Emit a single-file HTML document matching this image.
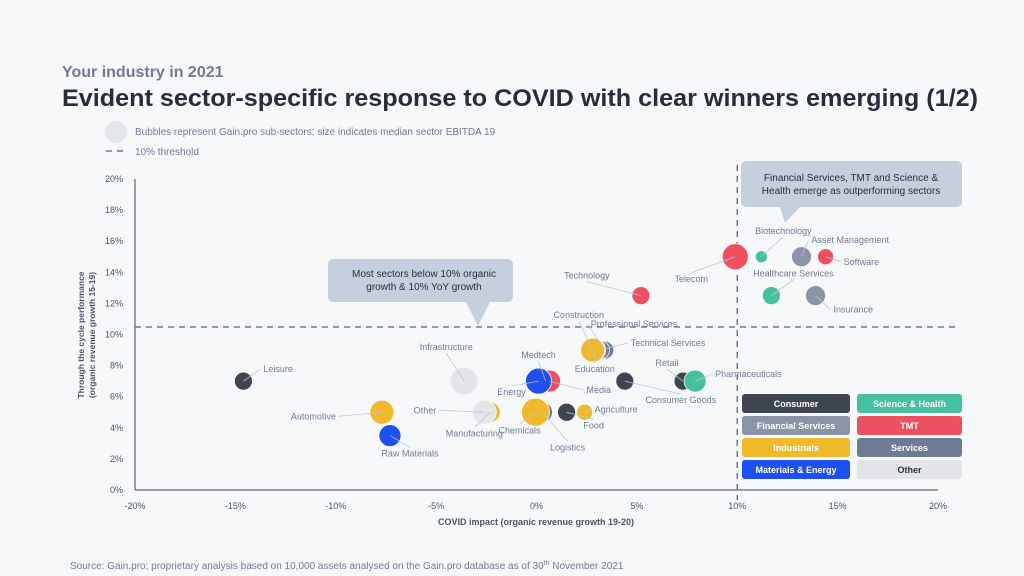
<!DOCTYPE html>
<html><head><meta charset="utf-8"><style>
html,body{margin:0;padding:0;background:#f7f8fa;}
svg{display:block;font-family:"Liberation Sans",sans-serif;}
</style></head><body>
<svg id="chart" width="1024" height="576" viewBox="0 0 1024 576">
<rect width="1024" height="576" fill="#f7f8fa"/>
<text x="62" y="77" font-size="16" font-weight="bold" fill="#6e7b96">Your industry in 2021</text>
<text x="62" y="106" font-size="24" font-weight="bold" fill="#272e3b" textLength="916" lengthAdjust="spacingAndGlyphs">Evident sector-specific response to COVID with clear winners emerging (1/2)</text>
<circle cx="116" cy="132" r="11" fill="#e3e6ec"/>
<text x="135" y="135" font-size="10" fill="#6e7b96">Bubbles represent Gain.pro sub-sectors; size indicates median sector EBITDA 19</text>
<line x1="106" y1="151" x2="126" y2="151" stroke="#6e7b96" stroke-width="1.5" stroke-dasharray="6,5"/>
<text x="135" y="155" font-size="10" fill="#6e7b96">10% threshold</text>
<g id="axes"></g>
<g id="bubbles"></g>
<g id="callouts">
<path d="M328,265 Q328,259 334,259 L507,259 Q513,259 513,265 L513,296 Q513,302 507,302 L490,302 L478,326 L466,302 L334,302 Q328,302 328,296 Z" fill="#c5cfdd"/>
<text x="424" y="277" font-size="10" fill="#272e3b" text-anchor="middle">Most sectors below 10% organic</text>
<text x="424" y="290" font-size="10" fill="#272e3b" text-anchor="middle">growth &amp; 10% YoY growth</text>
<path d="M741,167 Q741,161 747,161 L956,161 Q962,161 962,167 L962,201 Q962,207 956,207 L800,207 L785,223 L780,207 L747,207 Q741,207 741,201 Z" fill="#c5cfdd"/>
<text x="851" y="181" font-size="10" fill="#272e3b" text-anchor="middle">Financial Services, TMT and Science &amp;</text>
<text x="851" y="194" font-size="10" fill="#272e3b" text-anchor="middle">Health emerge as outperforming sectors</text>
</g>
<g id="legend"></g>
<text x="536" y="525" font-size="9" font-weight="bold" fill="#4a5468" text-anchor="middle">COVID impact (organic revenue growth 19-20)</text>
<text transform="translate(84,335) rotate(-90)" font-size="8.5" font-weight="bold" fill="#4a5468" text-anchor="middle">Through the cycle performance</text>
<text transform="translate(95,335) rotate(-90)" font-size="8.5" font-weight="bold" fill="#4a5468" text-anchor="middle">(organic revenue growth 15-19)</text>
<text x="70" y="569" font-size="10" fill="#6e7b96">Source: Gain.pro; proprietary analysis based on 10,000 assets analysed on the Gain.pro database as of 30<tspan font-size="7" dy="-4">th</tspan><tspan dy="4"> November 2021</tspan></text>
</svg>
<script>
const xTicks=[-20,-15,-10,-5,0,5,10,15,20];
const yTicks=[0,2,4,6,8,10,12,14,16,18,20];
const names=["Leisure","Infrastructure","Automotive","Raw Materials","Manufacturing","Other","Medtech","Media","Energy","Logistics","Chemicals","Food","Agriculture","Professional Services","Technical Services","Education","Construction","Consumer Goods","Retail","Pharmaceuticals","Technology","Telecom","Biotechnology","Asset Management","Software","Healthcare Services","Insurance"];
const covidX=[-14.6,-3.6,-7.7,-7.3,-2.3,-2.6,0.45,0.65,0.1,0.3,-0.05,1.5,2.4,3.4,3.2,2.9,2.8,4.4,7.3,7.9,5.2,9.9,11.2,13.2,14.4,11.7,13.9];
const cycleY=[7.0,7.0,5.0,3.5,5.0,5.0,7.0,7.0,7.0,5.0,5.0,5.0,5.0,9.0,9.0,9.0,9.0,7.0,7.0,7.0,12.5,15.0,15.0,15.0,15.0,12.5,12.5];
const ebitda=[9,14,12,11,10,12,11,11,13,10,14,9,8,9,9,11,12,9,9,11,9,13,6,10,8,9,10];
const sectors=["Consumer","Other","Industrials","Materials & Energy","Industrials","Other","Science & Health","TMT","Materials & Energy","Services","Industrials","Consumer","Industrials","Services","Services","Industrials","Industrials","Consumer","Consumer","Science & Health","TMT","TMT","Science & Health","Financial Services","TMT","Science & Health","Financial Services"];
const colors={"Consumer":"#3d4550","Science & Health":"#45c1a0","Financial Services":"#8a94a6","TMT":"#ee5060","Industrials":"#f0b92a","Services":"#6e7b96","Materials & Energy":"#1e4ff0","Other":"#e3e5e8"};
// label anchor offsets (layout only)
const lab={"Leisure":[20,-9,"start"],"Infrastructure":[-18,-31,"middle"],"Automotive":[-46,7,"end"],"Raw Materials":[20,21,"middle"],"Manufacturing":[-16,24,"middle"],"Other":[-48,1,"end"],"Medtech":[-7,-23,"middle"],"Media":[37,12,"start"],"Energy":[-27,14,"middle"],"Logistics":[25,38,"middle"],"Chemicals":[-16,21,"middle"],"Food":[27,16,"middle"],"Agriculture":[10,0,"start"],"Professional Services":[-14,-23,"start"],"Technical Services":[30,-4,"start"],"Education":[0,22,"middle"],"Construction":[-14,-32,"middle"],"Consumer Goods":[56,22,"middle"],"Retail":[-16,-15,"middle"],"Pharmaceuticals":[20,-4,"start"],"Technology":[-54,-17,"middle"],"Telecom":[-44,25,"middle"],"Biotechnology":[22,-23,"middle"],"Asset Management":[10,-14,"start"],"Software":[18,8,"start"],"Healthcare Services":[22,-19,"middle"],"Insurance":[18,17,"start"]};
const NS="http://www.w3.org/2000/svg";
const X0=135,X1=938,Y0=490,Y1=179;
function sx(v){return X0+(v-(-20))/40*(X1-X0);}
function sy(v){return Y0-(v/20)*(Y0-Y1);}
function mk(tag,attrs,parent){const e=document.createElementNS(NS,tag);for(const k in attrs)e.setAttribute(k,attrs[k]);parent.appendChild(e);return e;}
const axes=document.getElementById('axes');
let l=mk('line',{x1:X0,y1:Y1,x2:X0,y2:Y0,stroke:'#3d4550','stroke-width':1},axes);


l=mk('line',{x1:X0,y1:Y0,x2:X1,y2:Y0,stroke:'#3d4550','stroke-width':1},axes);


xTicks.forEach(t=>{const e=mk('text',{x:sx(t),y:Y0+19,'font-size':9,fill:'#4a5468','text-anchor':'middle'},axes);e.textContent=t+'%';

});
yTicks.forEach(t=>{const e=mk('text',{x:X0-12,y:sy(t)+3,'font-size':9,fill:'#4a5468','text-anchor':'end'},axes);e.textContent=t+'%';

});
l=mk('line',{x1:X0,y1:327,x2:960,y2:327,stroke:'#6e7b96','stroke-width':1.5,'stroke-dasharray':'6,5'},axes);


l=mk('line',{x1:sx(10),y1:165,x2:sx(10),y2:500,stroke:'#6e7b96','stroke-width':1.5,'stroke-dasharray':'6,5'},axes);


const bg=document.getElementById('bubbles');
names.forEach((n,i)=>{
 const cx=sx(covidX[i]),cy=sy(cycleY[i]);
 const c=mk('circle',{cx:cx,cy:cy,r:ebitda[i],fill:colors[sectors[i]],stroke:'#f7f8fa','stroke-width':0.8},bg);
 
 
});
names.forEach((n,i)=>{
 const cx=sx(covidX[i]),cy=sy(cycleY[i]);const o=lab[n];
 const tx=cx+o[0],ty=cy+o[1];
 const ln=mk('line',{x1:cx,y1:cy,x2:tx+(o[2]=='end'?3:(o[2]=='start'?-3:0)),y2:ty+(o[2]=='middle'?(o[1]<0?3:-9):-3),stroke:'#c0c6d0','stroke-width':0.8},bg);
 
 
 const t=mk('text',{x:tx,y:ty,'font-size':9,fill:'#6e7b96','text-anchor':o[2]},bg);t.textContent=n;
 
 
});
const legendItems=["Consumer","Science & Health","Financial Services","TMT","Industrials","Services","Materials & Energy","Other"];
const lg=document.getElementById('legend');
legendItems.forEach((s,i)=>{
 const col=i%2,row=Math.floor(i/2);
 const x=col?857:742,y=394+row*22,w=col?105:108;
 const r=mk('rect',{x:x,y:y,width:w,height:19,rx:3,fill:colors[s]},lg);
 
 
 const t=mk('text',{x:x+w/2,y:y+13,'font-size':9,'font-weight':'bold',fill:s=="Other"?'#272e3b':'#ffffff','text-anchor':'middle'},lg);t.textContent=s;
 
 
});
</script>
</body></html>
